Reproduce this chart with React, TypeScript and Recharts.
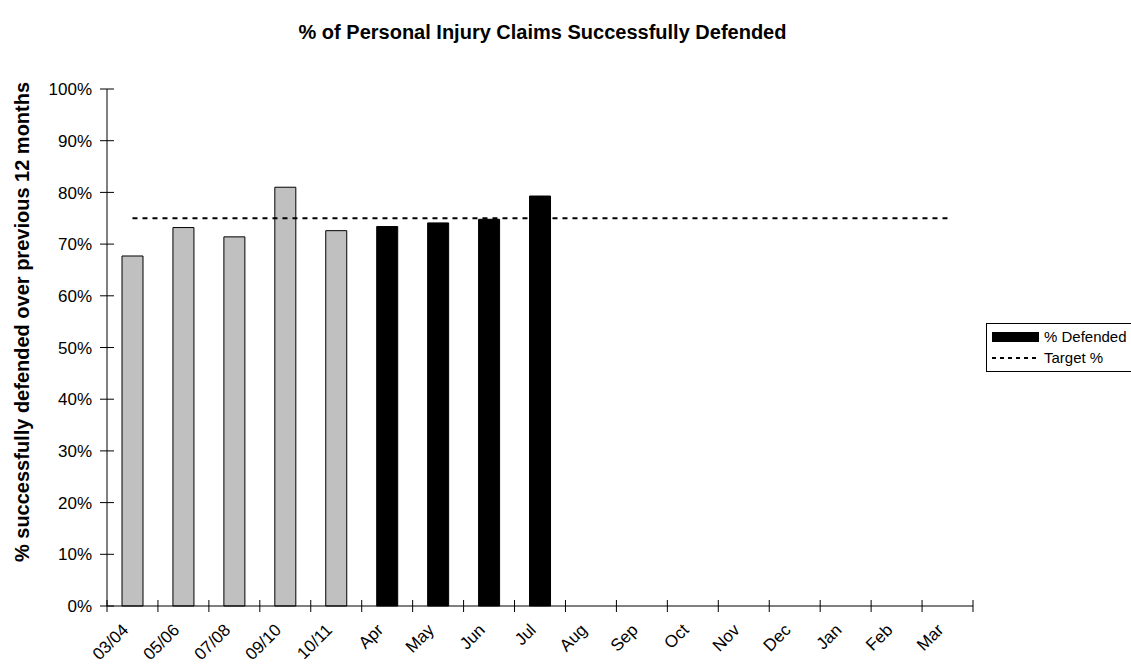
import React from 'react';
import {
  ComposedChart,
  Bar,
  Line,
  Cell,
  XAxis,
  YAxis,
  Legend,
} from 'recharts';

const categories = ['03/04', '05/06', '07/08', '09/10', '10/11', 'Apr', 'May', 'Jun', 'Jul', 'Aug', 'Sep', 'Oct', 'Nov', 'Dec', 'Jan', 'Feb', 'Mar'];
const defended = [67.7, 73.2, 71.4, 81.0, 72.6, 73.4, 74.1, 74.8, 79.3, null, null, null, null, null, null, null, null];
const target = [75, 75, 75, 75, 75, 75, 75, 75, 75, 75, 75, 75, 75, 75, 75, 75, 75];
const yearlyCount = 5;
const yTicks = [0, 10, 20, 30, 40, 50, 60, 70, 80, 90, 100];

const data = categories.map((name, i) => ({ name, defended: defended[i], target: target[i] }));

const FONT = 'Arial, "Liberation Sans", sans-serif';
const BAND = 866 / 17;

const XTick = (props: any) => {
  const { x, y, payload, index } = props;
  const isLast = index === categories.length - 1;
  const tx = x - 3;
  const ty = y + 25;
  return (
    <g>
      <line x1={x - BAND / 2} x2={x - BAND / 2} y1={y - 6} y2={y + 6} stroke="#000" strokeWidth={1} />
      {isLast && <line x1={x + BAND / 2} x2={x + BAND / 2} y1={y - 6} y2={y + 6} stroke="#000" strokeWidth={1} />}
      <text
        x={tx}
        y={ty}
        textAnchor="end"
        fontFamily={FONT}
        fontSize={17}
        fill="#000"
        transform={`rotate(-45, ${tx}, ${ty})`}
      >
        {payload.value}
      </text>
    </g>
  );
};

const YTick = (props: any) => {
  const { x, y, payload } = props;
  return (
    <g>
      <line x1={x - 7} x2={x + 7} y1={y} y2={y} stroke="#000" strokeWidth={1} />
      <text x={x - 15} y={y} dy="0.36em" textAnchor="end" fontFamily={FONT} fontSize={17} fill="#000">
        {payload.value}%
      </text>
    </g>
  );
};

const LegendBox = () => (
  <div
    style={{
      border: '1px solid #000',
      background: '#fff',
      padding: '2px 20px 3px 5px',
      fontFamily: FONT,
      fontSize: 15,
      lineHeight: '21px',
      whiteSpace: 'nowrap',
      width: 160,
    }}
  >
    <div style={{ display: 'flex', alignItems: 'center' }}>
      <span style={{ display: 'inline-block', width: 47, height: 10, background: '#000', marginRight: 5 }} />
      % Defended
    </div>
    <div style={{ display: 'flex', alignItems: 'center' }}>
      <svg width={47} height={4} style={{ marginRight: 5 }}>
        <line x1={0} x2={47} y1={2} y2={2} stroke="#000" strokeWidth={2} strokeDasharray="4 4" />
      </svg>
      Target %
    </div>
  </div>
);

export default function App() {
  return (
    <div style={{ position: 'absolute', left: 0, top: 0, width: 1131, height: 669, background: '#fff', overflow: 'hidden' }}>
      <div
        style={{
          position: 'absolute',
          left: 0,
          top: 20,
          width: 1085,
          textAlign: 'center',
          fontFamily: FONT,
          fontWeight: 'bold',
          fontSize: 20,
          lineHeight: '24px',
        }}
      >
        % of Personal Injury Claims Successfully Defended
      </div>
      <svg width={40} height={669} style={{ position: 'absolute', left: 0, top: 0 }}>
        <text
          x={29}
          y={322}
          textAnchor="middle"
          fontFamily={FONT}
          fontWeight="bold"
          fontSize={20}
          fill="#000"
          transform="rotate(-90, 29, 322)"
        >
          % successfully defended over previous 12 months
        </text>
      </svg>
      <ComposedChart
        width={1131}
        height={669}
        data={data}
        margin={{ top: 89, right: 158, bottom: 0, left: 0 }}
        barCategoryGap={0}
        style={{ position: 'absolute', left: 0, top: 0 }}
      >
        <XAxis
          dataKey="name"
          height={63}
          axisLine={{ stroke: '#000' }}
          tickLine={false}
          tickSize={0}
          tickMargin={0}
          interval={0}
          tick={<XTick />}
        />
        <YAxis
          width={107}
          domain={[0, 100]}
          ticks={yTicks}
          axisLine={{ stroke: '#000' }}
          tickLine={false}
          tickSize={0}
          tickMargin={0}
          interval={0}
          tick={<YTick />}
        />
        <Bar dataKey="defended" barSize={21} isAnimationActive={false} stroke="#000" strokeWidth={1}>
          {data.map((d, i) => (
            <Cell key={d.name} fill={i < yearlyCount ? '#C0C0C0' : '#000'} />
          ))}
        </Bar>
        <Line
          dataKey="target"
          stroke="#000"
          strokeWidth={2}
          strokeDasharray="5 5"
          dot={false}
          activeDot={false}
          isAnimationActive={false}
        />
        <Legend
          layout="horizontal"
          align="center"
          verticalAlign="middle"
          content={<LegendBox />}
          wrapperStyle={{ position: 'absolute', left: 986, top: 323, width: 'auto' }}
        />
      </ComposedChart>
    </div>
  );
}
